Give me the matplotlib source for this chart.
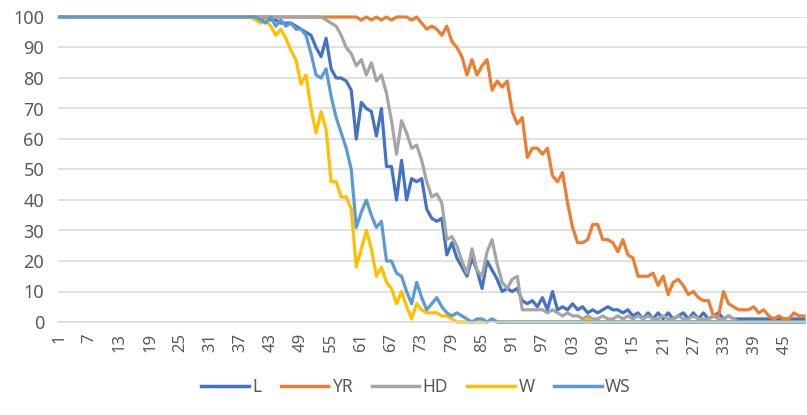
import matplotlib
matplotlib.use("Agg")
import matplotlib.pyplot as plt
from matplotlib.transforms import Bbox

plt.rcParams['font.family'] = ['Noto Sans', 'DejaVu Sans']

x = list(range(1, 150))
xticks = list(range(1, 146, 6))

L = ([100] * 40 +
     [99, 100, 99, 99, 98, 98, 98, 97, 96, 95, 94, 90, 87, 93, 83, 80, 80, 79, 76, 60,
      72, 70, 69, 61, 70, 51, 51, 40, 53, 40, 47, 46, 47, 37, 34, 33, 34, 22, 26, 21,
      18, 15, 21, 17, 11, 20, 17, 14, 10, 11, 10, 11, 7, 6, 7, 5, 8, 4, 10, 4,
      5, 4, 6, 4, 5, 3, 4, 3, 4, 5, 4, 4, 3, 4, 2, 3, 1, 3, 1, 3,
      1, 3, 1, 2, 3, 1, 3, 1, 3, 1, 2, 3, 1, 2, 1] +
     [1] * 14)

YR = ([100] * 60 +
      [99, 100, 99, 100, 99, 100, 99, 100, 100, 100, 99, 100, 98, 96, 97, 96, 94, 97, 92, 90,
       87, 81, 86, 81, 84, 86, 76, 79, 77, 79, 69, 65, 67, 54, 57, 57, 55, 57, 48, 46,
       49, 39, 31, 26, 26, 27, 32, 32, 27, 27, 26, 23, 27, 22, 21, 15, 15, 15, 16, 12,
       15, 9, 13, 14, 12, 9, 10, 8, 7, 7, 2, 2, 10, 6, 5, 4, 4, 4, 5, 3,
       4, 2, 1, 2, 1, 1, 3, 2, 2])

HD = ([100] * 53 +
      [99, 98, 97, 94, 90, 88, 84, 86, 81, 85, 79, 81, 75, 66, 55, 66, 62, 57, 58, 53,
       46, 41, 42, 39, 27, 28, 25, 20, 16, 24, 17, 15, 23, 27, 19, 13, 11, 14, 15, 4,
       4, 4, 4, 4, 3, 4, 3, 2, 3, 2, 2, 1, 2, 1, 1, 2, 1, 1, 2, 1,
       2, 1, 2, 1, 2, 1, 1, 2, 1, 1, 2, 1, 1, 2, 1, 1, 1, 2, 1, 1,
       2, 1] +
      [0] * 14)

W = ([100] * 39 +
     [99, 98, 99, 97, 94, 96, 93, 89, 86, 78, 81, 70, 62, 69, 63, 46, 46, 41, 41, 37,
      18, 24, 30, 24, 15, 18, 13, 11, 6, 10, 5, 1, 6, 4, 3, 3, 3, 2, 2, 1,
      0, 0, 0, 0, 0, 0, 0, 1, 0, 0, 0, 0, 0, 0, 0, 0, 0, 0, 0, 0,
      0, 0, 0, 0, 0, 0, 1, 0, 0] +
     [0] * 41)

WS = ([100] * 40 +
      [99, 98, 100, 97, 99, 97, 98, 96, 96, 94, 88, 81, 80, 83, 74, 67, 62, 57, 50, 31,
       36, 40, 35, 31, 33, 20, 20, 16, 15, 10, 6, 13, 8, 4, 6, 8, 5, 3, 2, 3,
       2, 1, 0, 1, 1, 0, 1] +
      [0] * 62)

series = [("L", L, "#4472C4"), ("YR", YR, "#ED7D31"), ("HD", HD, "#A5A5A5"),
          ("W", W, "#FFC000"), ("WS", WS, "#5B9BD5")]

W_PX, H_PX = 807, 415
fig = plt.figure(figsize=(W_PX / 100, H_PX / 100), dpi=100)
ax = fig.add_axes([58 / W_PX, 93 / H_PX, (W_PX - 58) / W_PX, 305 / H_PX])

for name, vals, col in series:
    ax.plot(x[:len(vals)], vals, color=col, lw=2.3, label=name, clip_on=False,
            solid_joinstyle='round')

ax.set_xlim(0.7, 149.6)
ax.set_ylim(0, 100)
ax.set_yticks(range(0, 101, 10))
ax.set_xticks(xticks)
ax.set_xticklabels([str(t) for t in xticks], rotation=90)
ax.yaxis.grid(True, color='#D9D9D9', lw=1.1)
ax.set_axisbelow(True)
for s in ['top', 'right', 'left']:
    ax.spines[s].set_visible(False)
ax.spines['bottom'].set_color('#D9D9D9')
ax.spines['bottom'].set_linewidth(1.1)
ax.tick_params(axis='both', length=0, labelcolor='#595959')
ax.tick_params(axis='x', labelsize=12, pad=8)
ax.tick_params(axis='y', labelsize=13, pad=10)

leg = fig.legend(loc='center', bbox_to_anchor=(416 / W_PX, 28 / H_PX), ncol=5,
                 frameon=False, fontsize=12.5, handlelength=2.75, handletextpad=0.2,
                 columnspacing=1.1, labelcolor='#595959')
for h in leg.get_lines():
    h.set_linewidth(2.5)

fig.canvas.draw()
clip = Bbox.from_extents(0, H_PX - 357, W_PX, H_PX)
for lbl in ax.get_xticklabels():
    lbl.set_clip_box(clip)
    lbl.set_clip_on(True)

fig.savefig("out.png", dpi=100)
